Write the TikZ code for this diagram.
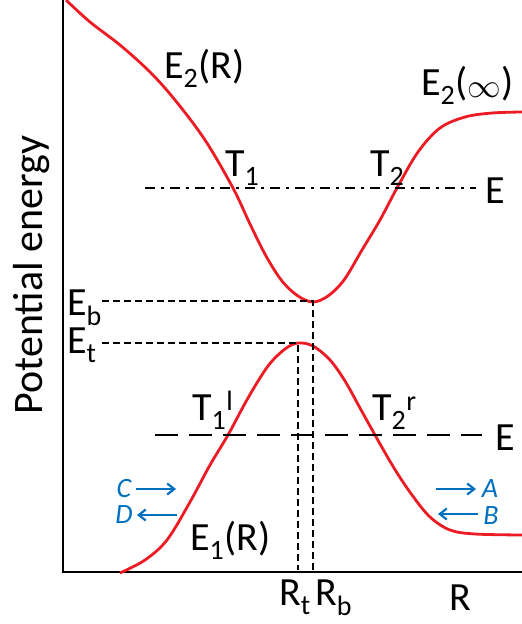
\documentclass[tikz,border=0pt]{standalone}
\usepackage{fontspec}
\setmainfont{Carlito}
\usetikzlibrary{arrows.meta}
\definecolor{curvered}{RGB}{237,28,36}
\definecolor{arrblue}{RGB}{0,112,192}
\begin{document}
\begin{tikzpicture}[x=1pt,y=-1pt,
  lbl/.style={inner sep=0pt,anchor=base west,font=\fontsize{40}{46}\selectfont},
  blbl/.style={inner sep=0pt,text=arrblue,font=\fontsize{28}{32}\selectfont\itshape},
  pot/.style={curvered,line width=2.8pt},
  axis/.style={black,line width=1.4pt},
  guide/.style={black,line width=2.4pt,dash pattern=on 7pt off 4pt},
  blarrow/.style={arrblue,line width=2.2pt,-{Straight Barb[length=7pt,width=11pt]}}]
\useasboundingbox (0,0) rectangle (522,624);
% axes
\coordinate (O) at (63,572);
\coordinate (Ytop) at (63,0);
\coordinate (Xend) at (522,572);
\draw[axis] (Ytop) -- (O) -- (Xend);
% upper curve E2
\draw[pot] plot[smooth,tension=0.55] coordinates {(66,0) (90,22) (120,45) (150,72) (175,100) (205,140) (233,188) (250,224) (266,256) (282,281) (298,296) (313,302) (328,296) (344,280) (362,250) (380,220) (397,188) (418,152) (440,128) (465,117) (492,113) (522,112)};
% lower curve E1
\draw[pot] plot[smooth,tension=0.55] coordinates {(120,573) (145,560) (167,540) (190,502) (210,465) (228,435) (248,398) (268,366) (285,349) (298,343) (313,346) (330,360) (345,381) (360,408) (375,435) (394,468) (412,495) (430,517) (450,530) (475,534) (522,535)};
% energy lines
\coordinate (Ea1) at (145,188); \coordinate (Ea2) at (476,188);
\draw[black,line width=2.2pt,dash pattern=on 10pt off 6pt on 3pt off 6pt] (Ea1) -- (Ea2);
\coordinate (Eb1) at (155,435); \coordinate (Eb2) at (482,435);
\draw[black,line width=2.4pt,dash pattern=on 23pt off 11pt] (Eb1) -- (Eb2);
% Eb, Et guides
\coordinate (bmin) at (313,301); \coordinate (tmax) at (298,343);
\coordinate (bfoot) at (313,570); \coordinate (tfoot) at (298,570);
\draw[guide] (102,301) -- (bmin) -- (bfoot);
\draw[guide] (102,343) -- (tmax) -- (tfoot);
% labels
\node[lbl] (lE2R) at (164,78) {E\textsubscript{2}(R)};
\node[lbl] (lE2inf) at (421,95) {E\textsubscript{2}(\raisebox{-0.05em}{\scalebox{1.35}{$\infty$}})};
\node[lbl] (lT1) at (225,176) {T\textsubscript{1}};
\node[lbl] (lT2) at (370,176) {T\textsubscript{2}};
\node[lbl] (lEa) at (485,203) {E};
\node[lbl] (lEb) at (67,315) {E\textsubscript{b}};
\node[lbl] (lEt) at (67,353) {E\textsubscript{t}};
\node[lbl] (lT1l) at (192,420) {T\textsubscript{1}\textsuperscript{l}};
\node[lbl] (lT2r) at (372,420) {T\textsubscript{2}\textsuperscript{r}};
\node[lbl] (lEbl) at (495,450) {E};
\node[lbl] (lE1R) at (190,550) {E\textsubscript{1}(R)};
\node[lbl] (lRt) at (279,605) {R\textsubscript{t}};
\node[lbl] (lRb) at (315,605) {R\textsubscript{b}};
\node[lbl] (lR) at (449,610) {R};
\node[inner sep=0pt,rotate=90,font=\fontsize{42}{48}\selectfont] (lPE) at (32,275) {Potential energy};
% blue arrows
\node[blbl] (lC) at (124,489) {C};
\node[blbl] (lD) at (124,515) {D};
\node[blbl] (lA) at (490,489) {A};
\node[blbl] (lB) at (491,516) {B};
\coordinate (c1) at (136,489); \coordinate (c2) at (176,489);
\coordinate (d1) at (177,515); \coordinate (d2) at (137,515);
\coordinate (a1) at (436,489); \coordinate (a2) at (476,489);
\coordinate (b1) at (478,514); \coordinate (b2) at (438,514);
\draw[blarrow] (c1) -- (c2);
\draw[blarrow] (d1) -- (d2);
\draw[blarrow] (a1) -- (a2);
\draw[blarrow] (b1) -- (b2);
\end{tikzpicture}
\end{document}
